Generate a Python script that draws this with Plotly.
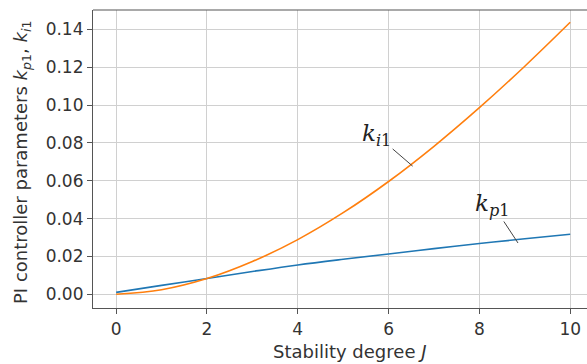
import plotly.graph_objects as go

# Data
J = [0, 1, 2, 3, 4, 5, 6, 7, 8, 9, 10]
kp1 = [0.0010, 0.0047, 0.0083, 0.0120, 0.0155, 0.0185, 0.0213, 0.0241, 0.0268, 0.0293, 0.0317]
ki1 = [0.0000, 0.0024, 0.0083, 0.0173, 0.0289, 0.0431, 0.0596, 0.0782, 0.0986, 0.1205, 0.1437]
xticks = [0, 2, 4, 6, 8, 10]
yticks = [0.00, 0.02, 0.04, 0.06, 0.08, 0.10, 0.12, 0.14]

W, H = 587, 364
L, R, T, B = 93, 0, 10, 56
pw, ph = W - L - R, H - T - B

def px(xpix):
    return (xpix - L) / pw

def py(ypix):
    return 1 - (ypix - T) / ph

fig = go.Figure()
fig.add_trace(go.Scatter(x=J, y=kp1, mode="lines", line=dict(color="#1f77b4", width=1.6, shape="spline"), name="kp1"))
fig.add_trace(go.Scatter(x=J, y=ki1, mode="lines", line=dict(color="#ff7f0e", width=1.6, shape="spline"), name="ki1"))

tickfont = dict(family="DejaVu Sans", size=17, color="#333")
fig.update_xaxes(range=[-0.51, 10.37], tickvals=xticks, ticktext=[str(v) for v in xticks],
                 showgrid=True, gridcolor="#d0d0d0", gridwidth=1, zeroline=False,
                 showline=True, linecolor="#555", linewidth=1.2, ticks="outside", ticklen=5,
                 tickcolor="#555", tickfont=tickfont)
fig.update_yaxes(range=[-0.00725, 0.1502], tickvals=yticks, ticktext=[f"{v:.2f}" for v in yticks],
                 showgrid=True, gridcolor="#d0d0d0", gridwidth=1, zeroline=False,
                 showline=True, linecolor="#555", linewidth=1.2, ticks="outside", ticklen=5,
                 tickcolor="#555", tickfont=tickfont)

# top spine
fig.add_shape(type="line", xref="paper", yref="paper", x0=0, x1=1, y0=1, y1=1,
              line=dict(color="#555", width=1.2))

annots = []
annots.append(dict(text="Stability degree <i>J</i>", xref="paper", yref="paper",
                   x=px(350), y=py(351), showarrow=False, xanchor="center", yanchor="middle",
                   font=dict(family="DejaVu Sans", size=18, color="#333")))
annots.append(dict(text="PI controller parameters <i>k</i><sub><i>p</i>1</sub>, <i>k</i><sub><i>i</i>1</sub>",
                   xref="paper", yref="paper", x=px(22), y=py(163), showarrow=False,
                   textangle=-90, xanchor="center", yanchor="middle",
                   font=dict(family="DejaVu Sans", size=18, color="#333")))
labfont = dict(family="DejaVu Serif", size=23, color="#222")
annots.append(dict(text="<i>k</i><sub><i>i</i>1</sub>", x=6.53, y=0.0677, xref="x", yref="y",
                   ax=-36, ay=-31, showarrow=True, arrowhead=0, arrowwidth=1, arrowcolor="#444",
                   font=labfont))
annots.append(dict(text="<i>k</i><sub><i>p</i>1</sub>", x=8.85, y=0.0271, xref="x", yref="y",
                   ax=-25, ay=-38, showarrow=True, arrowhead=0, arrowwidth=1, arrowcolor="#444",
                   font=labfont))

fig.update_layout(width=W, height=H, margin=dict(l=L, r=R, t=T, b=B),
                  plot_bgcolor="white", paper_bgcolor="white", showlegend=False,
                  annotations=annots)

fig.write_html("out.html")
